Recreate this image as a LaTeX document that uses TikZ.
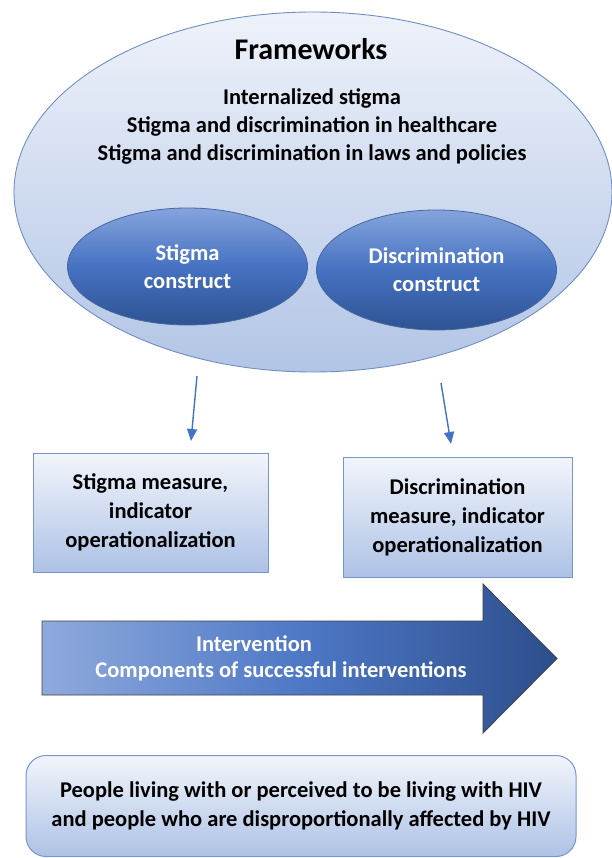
\documentclass[tikz,border=0pt]{standalone}
\usepackage{fontspec}
\setmainfont{Carlito}
\usetikzlibrary{shapes.geometric,arrows.meta}
\definecolor{bigtop}{HTML}{EEF2FA}
\definecolor{bigbot}{HTML}{B2C5E6}
\definecolor{bigline}{HTML}{6F8FC2}
\definecolor{smtop}{HTML}{85A4DC}
\definecolor{smmid}{HTML}{4672C2}
\definecolor{smbot}{HTML}{2E5392}
\definecolor{smline}{HTML}{47679F}
\definecolor{boxtop}{HTML}{F2F5FB}
\definecolor{boxbot}{HTML}{ADC2E6}
\definecolor{boxline}{HTML}{7896CE}
\definecolor{arrblue}{HTML}{4472C4}
\definecolor{bigarrL}{HTML}{8FAADC}
\definecolor{bigarrM}{HTML}{4E78C6}
\definecolor{bigarrR}{HTML}{2D4E8C}
\begin{document}
\begin{tikzpicture}[x=1pt,y=-1pt,
  txt/.style={font=\fontsize{22.5pt}{28.5pt}\selectfont\bfseries, align=center, inner sep=0pt},
  bigell/.style={ellipse, draw=bigline, line width=0.9pt, top color=bigtop, bottom color=bigbot, inner sep=0pt},
  smell/.style={ellipse, draw=smline, line width=0.8pt, top color=smtop, bottom color=smbot, middle color=smmid, inner sep=0pt, text=white,
    font=\fontsize{22.5pt}{28pt}\selectfont\bfseries, align=center},
  measbox/.style={rectangle, draw=boxline, line width=1pt, top color=boxtop, bottom color=boxbot, inner sep=0pt,
    font=\fontsize{22.5pt}{29pt}\selectfont\bfseries, align=center},
  conn/.style={draw=arrblue, line width=1.4pt, -{Triangle[length=12pt,width=10pt]}}
]
\useasboundingbox (0,0) rectangle (611,858);
\fill[white] (0,0) rectangle (611,858);

% Frameworks ellipse
\node[bigell, minimum width=598pt, minimum height=360pt] (fw) at (313,192) {};
\node[txt, font=\fontsize{30pt}{34pt}\selectfont\bfseries] (fwtitle) at (311,49) {Frameworks};
\node[txt, font=\fontsize{22.5pt}{28pt}\selectfont\bfseries] (fwlist) at (312,126) {Internalized stigma\\Stigma and discrimination in healthcare\\Stigma and discrimination in laws and policies};

% constructs
\node[smell, minimum width=240pt, minimum height=117pt] (sc) at (187.5,266.5) {Stigma\\construct};
\node[smell, minimum width=240pt, minimum height=120pt] (dc) at (436.5,270) {Discrimination\\construct};

% measure boxes
\node[measbox, minimum width=235pt, minimum height=119pt] (sm) at (150.5,512.5) {Stigma measure,\\indicator\\operationalization};
\node[measbox, minimum width=229pt, minimum height=120pt] (dm) at (457.5,517) {Discrimination\\measure, indicator\\operationalization};

% connectors
\coordinate (s1) at (197,376);
\coordinate (s2) at (191,441);
\coordinate (d1) at (441,383);
\coordinate (d2) at (451,444);
\draw[conn] (s1) -- (s2);
\draw[conn] (d1) -- (d2);

% big intervention arrow
\draw[draw=black!75, line width=0.8pt, left color=bigarrL, right color=bigarrR, middle color=bigarrM]
  (42,621) -- (483,621) -- (483,584) -- (557,658.5) -- (483,733) -- (483,695) -- (42,695) -- cycle;
\node[txt, text=white] (intv) at (254,644) {Intervention};
\node[txt, text=white] (comp) at (281,671) {Components of successful interventions};

% bottom box
\node[rectangle, rounded corners=20pt, draw=boxline, line width=1pt, top color=boxtop, bottom color=boxbot,
  minimum width=550pt, minimum height=101pt, inner sep=0pt,
  font=\fontsize{22.5pt}{28.5pt}\selectfont\bfseries, align=center] (pp) at (301,806)
  {People living with or perceived to be living with HIV\\and people who are disproportionally affected by HIV};
\end{tikzpicture}
\end{document}
